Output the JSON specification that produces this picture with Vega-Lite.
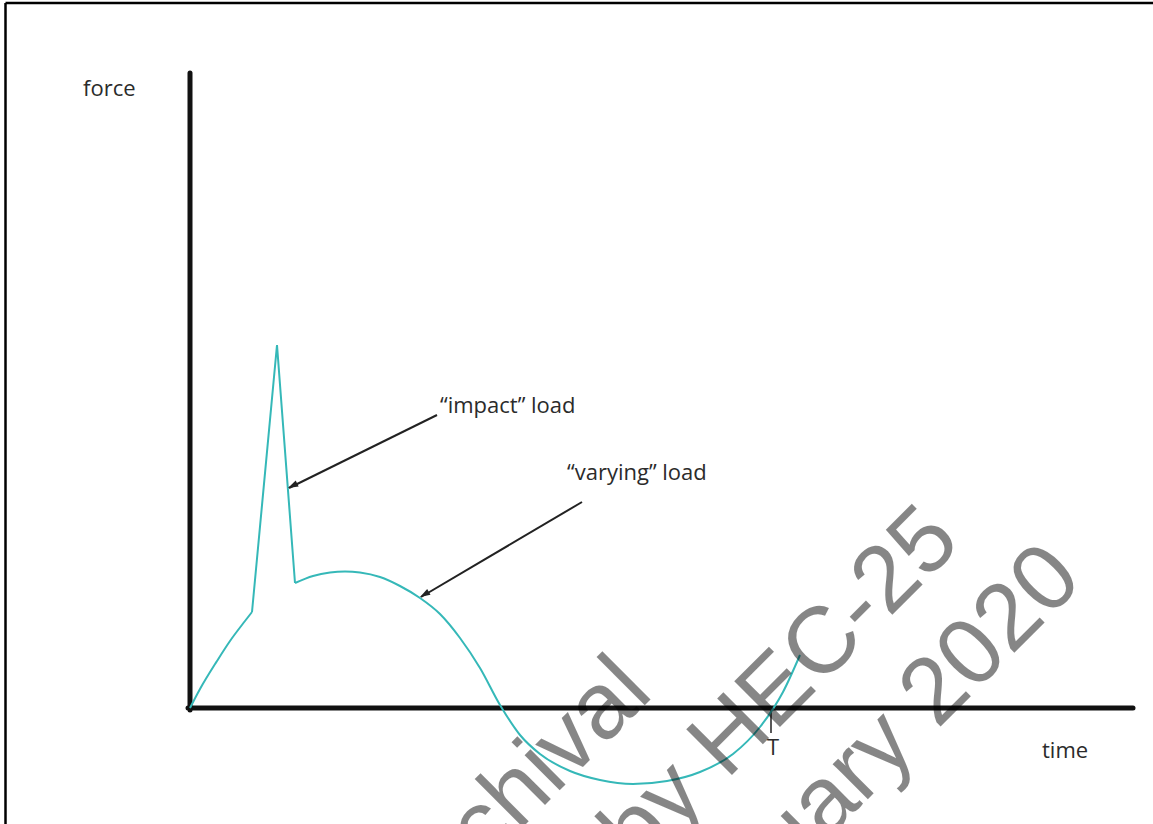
{
  "$schema": "https://vega.github.io/schema/vega-lite/v6.json",
  "width": 1153,
  "height": 824,
  "padding": 0,
  "autosize": {"type": "none"},
  "background": "white",
  "config": {"view": {"stroke": null}},
  "datasets": {
    "frame": [
      {"t": -18.45, "f": 70.5, "t2": 96.3, "f2": 70.5},
      {"t": -18.45, "f": 70.5, "t2": -18.45, "f2": -11.6}
    ],
    "axes": [
      {"t": 0, "f": 63.5, "t2": 0, "f2": -0.2},
      {"t": -0.2, "f": 0, "t2": 94.3, "f2": 0}
    ],
    "tick": [
      {"t": 58.1, "f": 0, "t2": 58.1, "f2": -2.5}
    ],
    "arrows": [
      {"t": 24.7, "f": 29.3, "t2": 9.9, "f2": 22.0},
      {"t": 39.2, "f": 20.6, "t2": 23.1, "f2": 11.1}
    ],
    "heads": [
      {"t": 9.8, "f": 22.0, "rot": 243.9},
      {"t": 23.0, "f": 11.1, "rot": 240.1}
    ],
    "curve": [
      {"seg": "a", "t": 0.0, "f": 0.0},
      {"seg": "a", "t": 1.0, "f": 1.9},
      {"seg": "a", "t": 2.7, "f": 4.7},
      {"seg": "a", "t": 4.0, "f": 6.7},
      {"seg": "a", "t": 5.5, "f": 8.7},
      {"seg": "a", "t": 6.2, "f": 9.6},
      {"seg": "b", "t": 10.5, "f": 12.5},
      {"seg": "b", "t": 12.3, "f": 13.2},
      {"seg": "b", "t": 14.0, "f": 13.55},
      {"seg": "b", "t": 15.5, "f": 13.65},
      {"seg": "b", "t": 17.0, "f": 13.55},
      {"seg": "b", "t": 19.0, "f": 13.1},
      {"seg": "b", "t": 21.0, "f": 12.2},
      {"seg": "b", "t": 23.0, "f": 11.0},
      {"seg": "b", "t": 25.0, "f": 9.4},
      {"seg": "b", "t": 27.0, "f": 7.0},
      {"seg": "b", "t": 29.0, "f": 4.0},
      {"seg": "b", "t": 31.0, "f": 0.3},
      {"seg": "b", "t": 33.0, "f": -2.7},
      {"seg": "b", "t": 35.0, "f": -4.6},
      {"seg": "b", "t": 38.0, "f": -6.3},
      {"seg": "b", "t": 41.0, "f": -7.2},
      {"seg": "b", "t": 44.3, "f": -7.6},
      {"seg": "b", "t": 47.7, "f": -7.3},
      {"seg": "b", "t": 51.0, "f": -6.4},
      {"seg": "b", "t": 54.3, "f": -4.6},
      {"seg": "b", "t": 57.0, "f": -1.9},
      {"seg": "b", "t": 59.3, "f": 1.6},
      {"seg": "b", "t": 61.0, "f": 5.3}
    ],
    "spike": [
      {"t": 6.2, "f": 9.6},
      {"t": 8.7, "f": 36.3},
      {"t": 10.5, "f": 12.5}
    ],
    "labels": [
      {"t": -10.7, "f": 61.2, "label": "force"},
      {"t": 25.0, "f": 29.5, "label": "“impact” load"},
      {"t": 37.7, "f": 22.8, "label": "“varying” load"},
      {"t": 85.2, "f": -5.0, "label": "time"},
      {"t": 57.7, "f": -4.7, "label": "T"}
    ],
    "watermark": [
      {"t": 46.5, "f": 1.3, "label": "Archival"},
      {"t": 77.3, "f": 16.4, "label": "by HEC-25"},
      {"t": 89.5, "f": 12.6, "label": "January 2020"}
    ]
  },
  "encoding": {
    "x": {"field": "t", "type": "quantitative", "scale": {"domain": [-19.0, 96.3], "nice": false, "zero": false}, "axis": null},
    "y": {"field": "f", "type": "quantitative", "scale": {"domain": [-11.6, 70.8], "nice": false, "zero": false}, "axis": null}
  },
  "layer": [
    {
      "data": {"name": "frame"},
      "mark": {"type": "rule", "color": "#000000", "strokeWidth": 2.5},
      "encoding": {"x2": {"field": "t2"}, "y2": {"field": "f2"}}
    },
    {
      "data": {"name": "axes"},
      "mark": {"type": "rule", "color": "#111111", "strokeWidth": 5, "strokeCap": "round"},
      "encoding": {"x2": {"field": "t2"}, "y2": {"field": "f2"}}
    },
    {
      "data": {"name": "tick"},
      "mark": {"type": "rule", "color": "#222222", "strokeWidth": 1.5},
      "encoding": {"x2": {"field": "t2"}, "y2": {"field": "f2"}}
    },
    {
      "data": {"name": "curve"},
      "mark": {"type": "line", "color": "#35b8b8", "strokeWidth": 2, "interpolate": "monotone"},
      "encoding": {"detail": {"field": "seg", "type": "nominal"}, "order": {"field": "t", "type": "quantitative"}}
    },
    {
      "data": {"name": "spike"},
      "mark": {"type": "line", "color": "#35b8b8", "strokeWidth": 2, "interpolate": "linear", "strokeJoin": "miter"},
      "encoding": {"order": {"field": "t", "type": "quantitative"}}
    },
    {
      "data": {"name": "arrows"},
      "mark": {"type": "rule", "color": "#222222", "strokeWidth": 2},
      "encoding": {"x2": {"field": "t2"}, "y2": {"field": "f2"}}
    },
    {
      "data": {"name": "heads"},
      "mark": {"type": "point", "shape": "M0,0L-1.1,3.4L1.1,3.4Z", "filled": true, "size": 36, "color": "#222222", "opacity": 1},
      "encoding": {"angle": {"field": "rot", "type": "quantitative", "scale": null}}
    },
    {
      "data": {"name": "labels"},
      "mark": {"type": "text", "font": "Open Sans", "fontSize": 22, "color": "#2b2b2b", "align": "left", "baseline": "alphabetic"},
      "encoding": {"text": {"field": "label"}}
    },
    {
      "data": {"name": "watermark"},
      "mark": {"type": "text", "font": "Liberation Sans", "fontSize": 94, "color": "#000000", "opacity": 0.47, "align": "right", "baseline": "alphabetic", "angle": -45},
      "encoding": {"text": {"field": "label"}}
    }
  ]
}
